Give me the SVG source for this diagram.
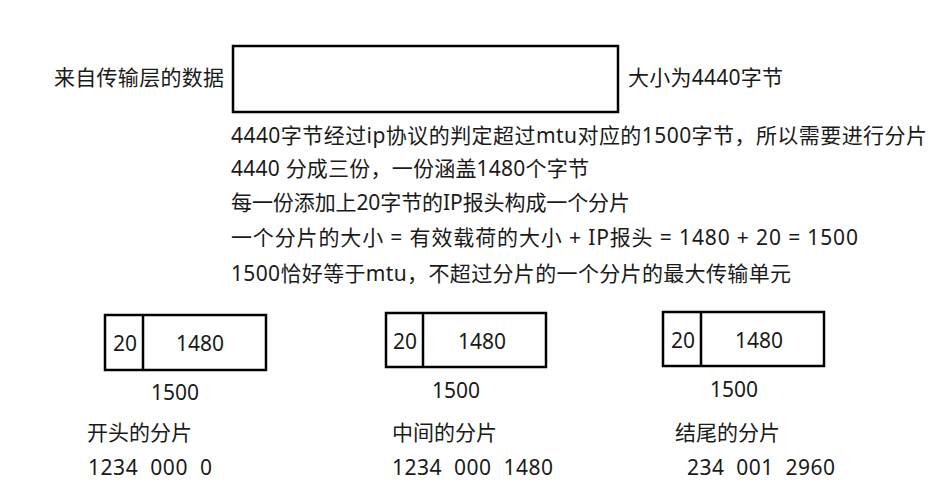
<svg xmlns="http://www.w3.org/2000/svg" width="943" height="502" viewBox="0 0 943 502">
<style>
text{font-family:"Noto Sans","Noto Sans CJK SC",sans-serif;font-size:21px;fill:#1a1a1a;white-space:pre}
.box{fill:#fff;stroke:#000;stroke-width:2.5}
.div{stroke:#000;stroke-width:2.5}
.c{text-anchor:middle}
</style>
<rect width="943" height="502" fill="#fff"/>
<g id="source">
<text x="54" y="85" textLength="170" lengthAdjust="spacing">来自传输层的数据</text>
<rect class="box" x="233" y="46" width="385" height="66"/>
<text x="628" y="85" textLength="155" lengthAdjust="spacing">大小为4440字节</text>
</g>
<g id="explanation">
<text x="231" y="143" textLength="696" lengthAdjust="spacing">4440字节经过ip协议的判定超过mtu对应的1500字节，所以需要进行分片</text>
<text x="231" y="176" textLength="358" lengthAdjust="spacing">4440 分成三份，一份涵盖1480个字节</text>
<text x="231" y="210" textLength="399" lengthAdjust="spacing">每一份添加上20字节的IP报头构成一个分片</text>
<text x="231" y="245" textLength="627" lengthAdjust="spacing">一个分片的大小 = 有效载荷的大小 + IP报头 = 1480 + 20 = 1500</text>
<text x="231" y="281" textLength="560" lengthAdjust="spacing">1500恰好等于mtu，不超过分片的一个分片的最大传输单元</text>
</g>
<g id="frag1">
<rect class="box" x="105" y="315" width="161" height="55"/>
<line class="div" x1="143" y1="315" x2="143" y2="370"/>
<text class="c" x="125" y="351">20</text>
<text class="c" x="200" y="351">1480</text>
<text class="c" x="175" y="400">1500</text>
<text x="87" y="440">开头的分片</text>
<text x="88" y="475" textLength="124" lengthAdjust="spacing">1234  000  0</text>
</g>
<g id="frag2">
<rect class="box" x="386" y="313" width="160" height="54"/>
<line class="div" x1="423" y1="313" x2="423" y2="367"/>
<text class="c" x="405" y="349">20</text>
<text class="c" x="482" y="349">1480</text>
<text class="c" x="456" y="398">1500</text>
<text x="392" y="440">中间的分片</text>
<text x="392" y="475" textLength="161" lengthAdjust="spacing">1234  000  1480</text>
</g>
<g id="frag3">
<rect class="box" x="663" y="312" width="161" height="54"/>
<line class="div" x1="701" y1="312" x2="701" y2="366"/>
<text class="c" x="683" y="348">20</text>
<text class="c" x="759" y="348">1480</text>
<text class="c" x="734" y="397">1500</text>
<text x="675" y="440">结尾的分片</text>
<text x="687" y="475" textLength="148" lengthAdjust="spacing">234  001  2960</text>
</g>
<g id="connectors"/>
</svg>
